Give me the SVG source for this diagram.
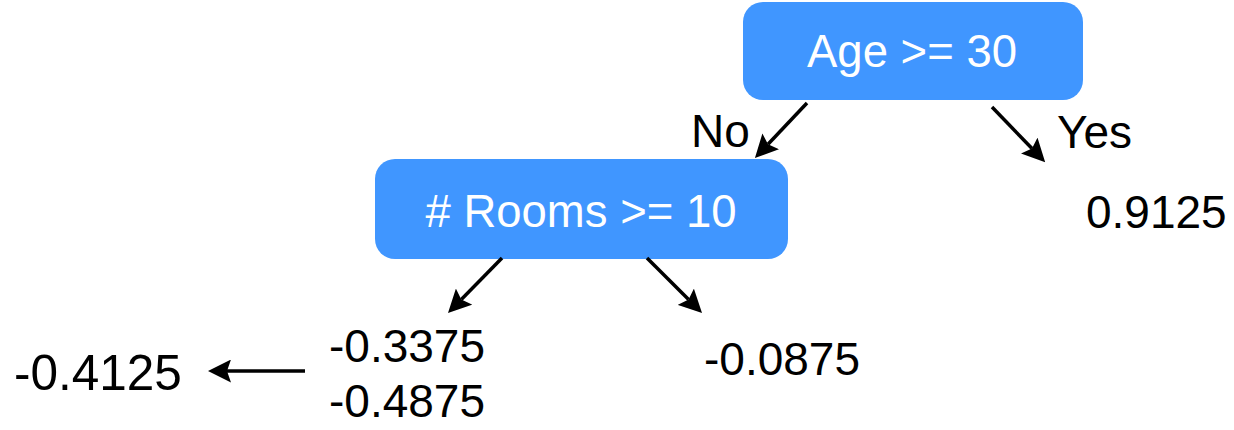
<svg xmlns="http://www.w3.org/2000/svg" width="1234" height="430" viewBox="0 0 1234 430">
<style>
.box{fill:#4096ff;}
.bt{fill:#ffffff;font-family:"Liberation Sans",Arial,sans-serif;font-size:45.5px;text-anchor:middle;}
.t{fill:#000000;font-family:"Liberation Sans",Arial,sans-serif;font-size:46px;}
.c{stroke:#000000;stroke-width:3.5;fill:none;marker-end:url(#ah);}
</style>
<defs>
<marker id="ah" viewBox="0 0 23 23" refX="4" refY="11.5" markerWidth="23" markerHeight="23" markerUnits="userSpaceOnUse" orient="auto">
<path d="M0,0 L23,11.5 L0,23 L4,11.5 z" fill="#000000"/>
</marker>
</defs>
<rect width="1234" height="430" fill="#ffffff"/>
<g id="node-age">
<rect class="box" x="743" y="2" width="340" height="98" rx="20" ry="20"/>
<text class="bt" x="912" y="67">Age &gt;= 30</text>
</g>
<g id="node-rooms">
<rect class="box" x="375" y="159" width="413" height="100" rx="20" ry="20"/>
<text class="bt" x="581" y="227"># Rooms &gt;= 10</text>
</g>
<g id="leaf-yes">
<text class="t" x="1086" y="228">0.9125</text>
</g>
<g id="leaf-left">
<text class="t" x="329" y="362">-0.3375</text>
<text class="t" x="329" y="417">-0.4875</text>
</g>
<g id="leaf-avg">
<text class="t" x="14" y="390" style="font-size:49.5px">-0.4125</text>
</g>
<g id="leaf-right">
<text class="t" x="704" y="375">-0.0875</text>
</g>
<g id="connectors">
<line class="c" x1="807" y1="103" x2="768" y2="144.2"/>
<line class="c" x1="992" y1="107" x2="1032" y2="148.5"/>
<line class="c" x1="502" y1="258" x2="461.3" y2="299.5"/>
<line class="c" x1="647" y1="258" x2="688.6" y2="299.6"/>
<line class="c" x1="305" y1="371" x2="227" y2="371"/>
<text class="t" x="691" y="147">No</text>
<text class="t" x="1057" y="148">Yes</text>
</g>
</svg>
